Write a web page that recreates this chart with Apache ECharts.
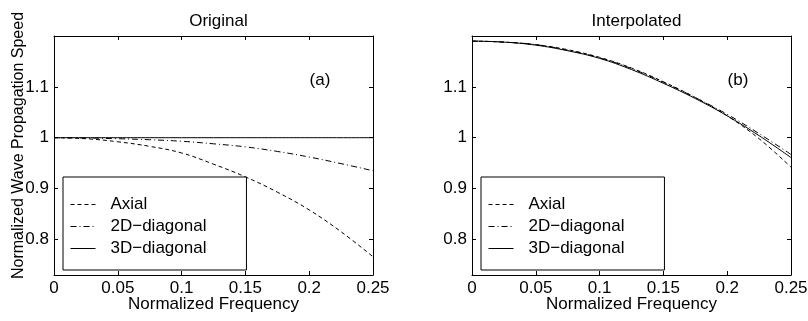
<!DOCTYPE html>
<html>
<head>
<meta charset="utf-8" />
<script src="https://cdn.jsdelivr.net/npm/echarts@6/dist/echarts.min.js"></script>
<style>
  html, body { margin: 0; padding: 0; background: #fff; }
  #chart { width: 808px; height: 321px; }
</style>
</head>
<body>
<div id="chart"></div>
<script>
// normalized frequency samples
const freq = [0, 0.025, 0.05, 0.075, 0.1, 0.125, 0.15, 0.175, 0.2, 0.225, 0.25];

// (a) original
const origAxial = [1, 0.998, 0.992, 0.983, 0.970, 0.948, 0.923, 0.893, 0.858, 0.815, 0.766];
const orig2D = [1, 0.9995, 0.998, 0.996, 0.993, 0.988, 0.982, 0.973, 0.962, 0.949, 0.935];
const orig3D = [1, 1, 1, 1, 1, 1, 1, 1, 1, 1, 1];

// (b) interpolated
const interpAxial = [1.190, 1.188, 1.183, 1.173, 1.158, 1.137, 1.110, 1.079, 1.043, 0.998, 0.942];
const interp2D = [1.190, 1.188, 1.183, 1.172, 1.157, 1.136, 1.109, 1.079, 1.046, 1.008, 0.967];
const interp3D = [1.190, 1.188, 1.182, 1.171, 1.156, 1.134, 1.107, 1.077, 1.043, 1.004, 0.961];

const xTicks = [0, 0.05, 0.1, 0.15, 0.2, 0.25];
const yTicks = [0.8, 0.9, 1, 1.1];
const names = ["Axial", "2D\u2212diagonal", "3D\u2212diagonal"];
const panelTitles = ["Original", "Interpolated"];
const panelTags = ["(a)", "(b)"];

const font = "Liberation Sans, Arial, Helvetica, sans-serif";
const black = "#000";
const lineTypes = [[4, 3], [6, 3, 1, 3], "solid"];
const gridLefts = [54, 472];

const pairs = ys => freq.map((f, i) => [f, ys[i]]);

const xAxes = [];
const yAxes = [];
const series = [];
const legends = [];
const titles = [];
const graphics = [];

// inward ticks, matlab style
const tick = vals => ({ show: true, inside: true, length: 4, customValues: vals, lineStyle: { color: black, width: 1 } });
const frameLine = { show: true, onZero: false, lineStyle: { color: black, width: 1 } };

[[origAxial, orig2D, orig3D], [interpAxial, interp2D, interp3D]].forEach((set, g) => {
  // bottom + top x axes
  xAxes.push({
    type: "value", gridIndex: g, min: 0, max: 0.25, position: "bottom",
    name: "Normalized Frequency", nameLocation: "middle", nameGap: 21, nameMoveOverlap: false,
    nameTextStyle: { color: black, fontFamily: font, fontSize: 17 },
    axisLine: frameLine,
    axisTick: tick(xTicks),
    axisLabel: { show: true, customValues: xTicks, margin: 5, color: black, fontFamily: font, fontSize: 17 },
    splitLine: { show: false },
  });
  xAxes.push({
    type: "value", gridIndex: g, min: 0, max: 0.25, position: "top",
    axisLine: frameLine,
    axisTick: tick(xTicks),
    axisLabel: { show: false },
    splitLine: { show: false },
  });
  // left + right y axes
  yAxes.push({
    type: "value", gridIndex: g, min: 0.73, max: 1.2, position: "left",
    name: g === 0 ? "Normalized Wave Propagation Speed" : "",
    nameLocation: "middle", nameGap: 27, nameMoveOverlap: false,
    nameTextStyle: { color: black, fontFamily: font, fontSize: 16, padding: [0, 0, 0, 20] },
    axisLine: frameLine,
    axisTick: tick(yTicks),
    axisLabel: { show: true, customValues: yTicks, margin: 5, color: black, fontFamily: font, fontSize: 17 },
    splitLine: { show: false },
  });
  yAxes.push({
    type: "value", gridIndex: g, min: 0.73, max: 1.2, position: "right",
    axisLine: frameLine,
    axisTick: tick(yTicks),
    axisLabel: { show: false },
    splitLine: { show: false },
  });

  set.forEach((ys, k) => {
    series.push({
      type: "line", name: names[k],
      xAxisIndex: g * 2, yAxisIndex: g * 2,
      data: pairs(ys),
      symbol: "none", smooth: 0.4,
      lineStyle: { color: black, width: 1, type: lineTypes[k] },
      itemStyle: { color: black },
      z: 3 - k,
    });
  });

  legends.push({
    data: names, orient: "vertical",
    left: gridLefts[g] + 9, top: 177,
    itemWidth: 25, itemHeight: 14, itemGap: 5,
    padding: [19, 40, 13, 7],
    backgroundColor: "#fff", borderColor: black, borderWidth: 1,
    selectedMode: false,
    itemStyle: { opacity: 0, color: "rgba(0,0,0,0)", borderWidth: 0 },
    lineStyle: { width: 1 },
    textStyle: { color: black, fontFamily: font, fontSize: 17, lineHeight: 14, padding: [0, 0, 0, 10] },
    z: 10,
  });

  titles.push({
    text: panelTitles[g], left: gridLefts[g] + 159.5, top: 8, textAlign: "center",
    textStyle: { color: black, fontFamily: font, fontSize: 17, fontWeight: "normal" },
  });

  graphics.push({
    type: "text", x: gridLefts[g] + 266, y: 80,
    style: { text: panelTags[g], fill: black, font: "17px " + font, textAlign: "center", textVerticalAlign: "middle" },
  });
});

const chart = echarts.init(document.getElementById("chart"));
chart.setOption({
  animation: false,
  backgroundColor: "#fff",
  title: titles,
  legend: legends,
  grid: gridLefts.map(l => ({ left: l, top: 36, width: 319, height: 239, outerBoundsMode: "none", containLabel: false })),
  xAxis: xAxes,
  yAxis: yAxes,
  series: series,
  graphic: graphics,
});
</script>
</body>
</html>
